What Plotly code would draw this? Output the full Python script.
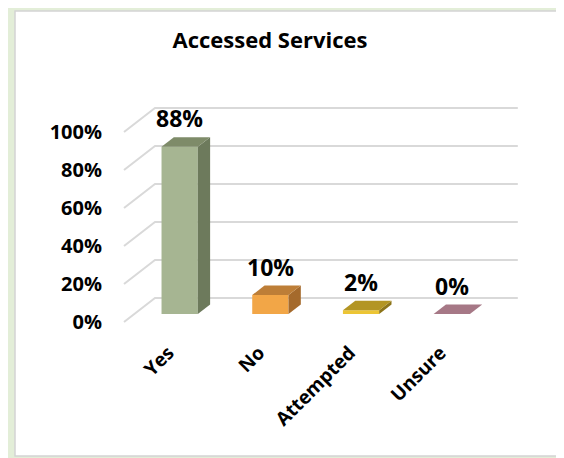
import plotly.graph_objects as go

categories = ["Yes", "No", "Attempted", "Unsure"]
values = [88, 10, 2, 0]
value_labels = ["88%", "10%", "2%", "0%"]
tick_values = [0, 20, 40, 60, 80, 100]
tick_labels = ["0%", "20%", "40%", "60%", "80%", "100%"]
title_text = "Accessed Services"

front_colors = ["#a6b592", "#f2a647", "#ecc535", "#b08592"]
side_colors = ["#6d7a5c", "#a56a2c", "#8c7419", "#8a5f6c"]
top_colors = ["#7e8b69", "#bd7e37", "#b39523", "#a67886"]

PAGE_W, PAGE_H = 564, 458
OFF = 8                      # default body margin of the html page
W, H = PAGE_W - OFF, PAGE_H - OFF
FONT = "Open Sans"

def P(p):
    """page pixel -> figure pixel"""
    return p - OFF

# geometry (page pixel based mapping)
px_per_unit_x = 90.7
px_per_unit_y = 1.9
plot_left, plot_right = P(112), P(545)
plot_top, plot_bottom = P(80), P(336)
x_front0 = P(124.0)          # left floor edge at front (x = -0.5)
y_front0 = P(322.0)          # 0% at front
x_lo = -0.5 - (x_front0 - plot_left) / px_per_unit_x
x_hi = -0.5 + (plot_right - x_front0) / px_per_unit_x
y_lo = -(plot_bottom - y_front0) / px_per_unit_y
y_hi = (y_front0 - plot_top) / px_per_unit_y

Dx = 31 / px_per_unit_x   # depth vector in data units
Dy = 24 / px_per_unit_y
f1, f2 = 0.333, 0.73
half_w = 0.2
n = len(categories)

fig = go.Figure()

# gridlines (left wall diagonal + back wall)
for v in tick_values:
    fig.add_trace(go.Scatter(
        x=[-0.5, -0.5 + Dx, n - 0.5 + Dx], y=[v, v + Dy, v + Dy],
        mode="lines", line=dict(color="#d9d9d9", width=2),
        hoverinfo="skip", showlegend=False))

dX = (f2 - f1) * Dx
dY = (f2 - f1) * Dy
for i, v in enumerate(values):
    c = i + f1 * Dx
    b = f1 * Dy
    t = v + b
    if v > 0:
        fig.add_trace(go.Scatter(
            x=[c - half_w, c + half_w, c + half_w, c - half_w, c - half_w],
            y=[b, b, t, t, b], fill="toself", fillcolor=front_colors[i],
            mode="lines", line=dict(width=0, color=front_colors[i]),
            hoverinfo="skip", showlegend=False))
        fig.add_trace(go.Scatter(
            x=[c + half_w, c + half_w + dX, c + half_w + dX, c + half_w, c + half_w],
            y=[b, b + dY, t + dY, t, b],
            fill="toself", fillcolor=side_colors[i],
            mode="lines", line=dict(width=0, color=side_colors[i]),
            hoverinfo="skip", showlegend=False))
    fig.add_trace(go.Scatter(
        x=[c - half_w, c + half_w, c + half_w + dX, c - half_w + dX, c - half_w],
        y=[t, t, t + dY, t + dY, t],
        fill="toself", fillcolor=top_colors[i],
        mode="lines", line=dict(width=0, color=top_colors[i]),
        hoverinfo="skip", showlegend=False))
    fig.add_annotation(
        x=c, y=t + dY + 0.5, text=value_labels[i], showarrow=False,
        yanchor="bottom", xanchor="center",
        font=dict(family=FONT, size=23, color="#000000", weight="bold"))

# frame
def fx(p):
    return (P(p) - plot_left) / (plot_right - plot_left)

def fy(p):
    return (plot_bottom - P(p)) / (plot_bottom - plot_top)

fig.add_shape(type="rect", xref="paper", yref="paper",
              x0=fx(-10), x1=fx(PAGE_W + 10), y0=fy(PAGE_H + 10), y1=fy(-10),
              fillcolor="#e3eed8", line=dict(width=0), layer="below")
fig.add_shape(type="rect", xref="paper", yref="paper",
              x0=fx(15), x1=fx(PAGE_W + 10), y0=fy(456), y1=fy(11),
              fillcolor="#ffffff", line=dict(width=1.5, color="#d4d4d4"), layer="below")

fig.update_layout(
    width=W, height=H,
    margin=dict(l=plot_left, r=W - plot_right, t=plot_top, b=H - plot_bottom),
    paper_bgcolor="#ffffff", plot_bgcolor="rgba(0,0,0,0)",
    title=dict(text=title_text, x=P(270) / W, xanchor="center",
               y=1 - P(40) / H, yanchor="middle", automargin=False,
               font=dict(family=FONT, size=22, color="#000000", weight="bold")),
    xaxis=dict(range=[x_lo, x_hi], showgrid=False, zeroline=False, showline=False,
               automargin=False,
               tickmode="array", tickvals=[i - 0.01 for i in range(n)],
               ticktext=categories, tickangle=-45, ticks="",
               ticklabelstandoff=1,
               tickfont=dict(family=FONT, size=19, color="#000000", weight="bold")),
    yaxis=dict(range=[y_lo, y_hi], showgrid=False, zeroline=False, showline=False,
               automargin=False,
               tickmode="array", tickvals=tick_values, ticktext=tick_labels, ticks="",
               ticklabelstandoff=9,
               tickfont=dict(family=FONT, size=20, color="#000000", weight="bold")),
)

fig.write_html("out.html")
